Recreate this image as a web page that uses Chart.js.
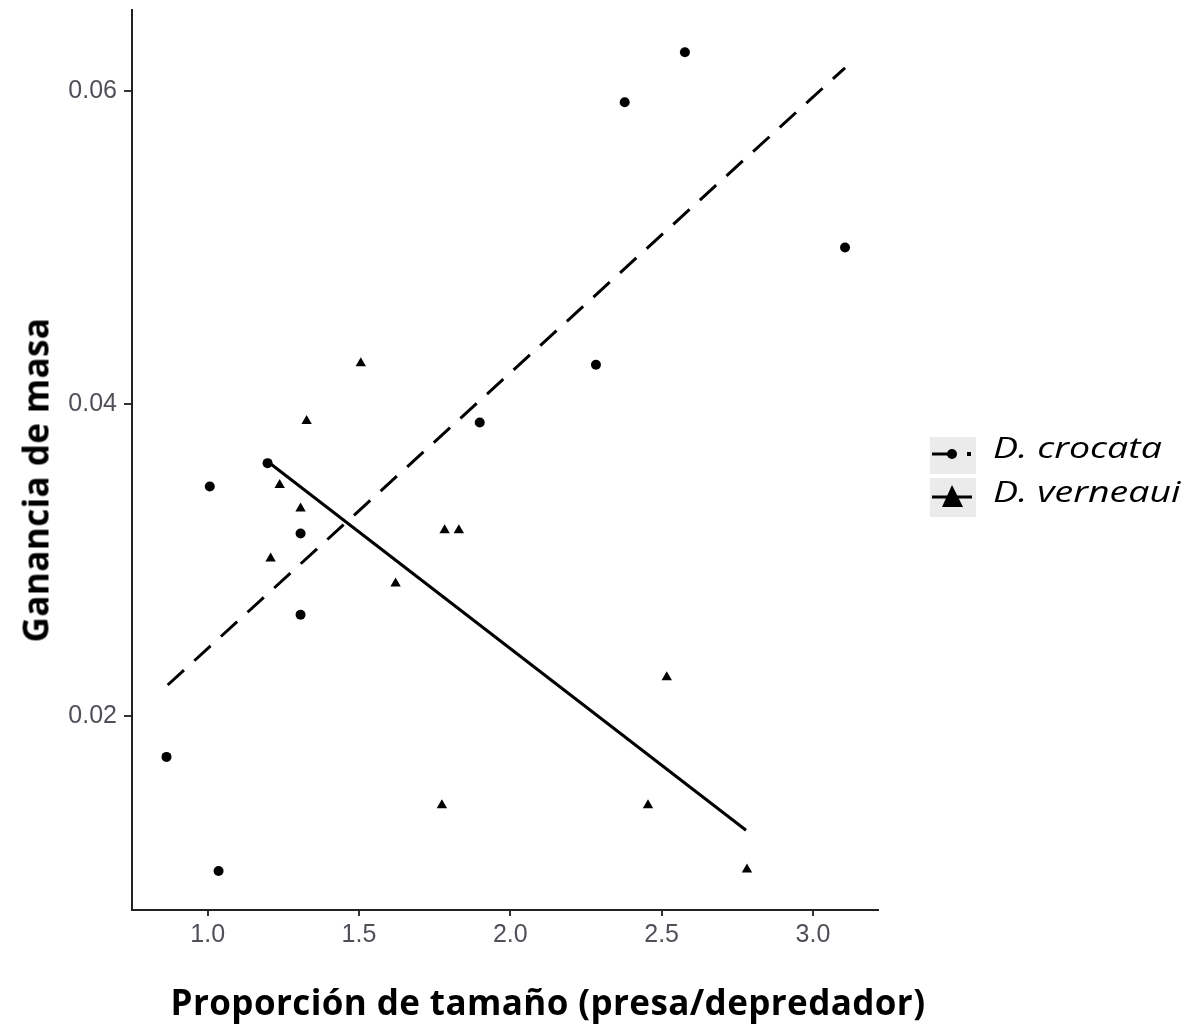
<!DOCTYPE html>
<html>
<head>
<meta charset="utf-8">
<script src="https://cdn.jsdelivr.net/npm/chart.js@4.4.1/dist/chart.umd.min.js"></script>
<style>
  html,body{margin:0;padding:0;background:#fff;}
  #wrap{position:relative;width:1200px;height:1027px;}
  #c{position:absolute;left:0;top:0;}
  .ttl{position:absolute;font-family:"Open Sans",sans-serif;font-weight:bold;color:#000;white-space:nowrap;letter-spacing:0.4px;}
  #xt{left:548px;top:1001px;transform:translate(-50%,-50%);font-size:35px;}
  #yt{left:35px;top:480px;transform:translate(-50%,-50%) rotate(-90deg);font-size:35px;}
  .key{position:absolute;}
  .lab{position:absolute;font-family:"Open Sans",sans-serif;font-style:italic;font-size:30px;color:#000;white-space:nowrap;transform-origin:left center;transform:translateY(-50%) scaleX(1.25);line-height:1;}
</style>
</head>
<body>
<div id="wrap">
  <canvas id="c" width="1200" height="1027"></canvas>
  <div class="ttl" id="xt">Proporción de tamaño (presa/depredador)</div>
  <div class="ttl" id="yt">Ganancia de masa</div>
  <canvas class="key" id="k1" width="46" height="37" style="left:930px;top:437px"></canvas>
  <canvas class="key" id="k2" width="46" height="39" style="left:930px;top:478px"></canvas>
  <div class="lab" id="l1" style="left:993px;top:447px"></div>
  <div class="lab" id="l2" style="left:993px;top:491px"></div>
</div>
<script>
// Data
const seriesNames = ["D. crocata", "D. verneaui"];
const crocataX = [3.106, 2.577, 2.378, 2.283, 1.899, 1.198, 1.007, 1.307, 1.307, 0.864, 1.036];
const crocataY = [0.0500, 0.0625, 0.0593, 0.0425, 0.0388, 0.0362, 0.0347, 0.0317, 0.0265, 0.0174, 0.0101];
const verneauiX = [1.506, 1.327, 1.238, 1.307, 1.208, 1.783, 1.830, 1.621, 2.517, 1.774, 2.455, 2.782];
const verneauiY = [0.0426, 0.0389, 0.0348, 0.0333, 0.0301, 0.0319, 0.0319, 0.0285, 0.0225, 0.0143, 0.0143, 0.0102];
const crocataFitX = [0.868, 3.106];
const crocataFitY = [0.0220, 0.0615];
const verneauiFitX = [1.198, 2.779];
const verneauiFitY = [0.0363, 0.0127];
const xTicks = [1.0, 1.5, 2.0, 2.5, 3.0];
const yTicks = [0.02, 0.04, 0.06];

document.getElementById('l1').textContent = seriesNames[0];
document.getElementById('l2').textContent = seriesNames[1];

const pts = (xs, ys) => xs.map((x, i) => ({x, y: ys[i]}));

new Chart(document.getElementById('c'), {
  type: 'scatter',
  data: {
    datasets: [
      {label: seriesNames[0] + ' fit', data: pts(crocataFitX, crocataFitY), showLine: true,
       borderColor: '#000', borderWidth: 3, borderDash: [22, 14], pointRadius: 0, fill: false},
      {label: seriesNames[1] + ' fit', data: pts(verneauiFitX, verneauiFitY), showLine: true,
       borderColor: '#000', borderWidth: 3, pointRadius: 0, fill: false},
      {label: seriesNames[0], data: pts(crocataX, crocataY), pointStyle: 'circle', pointRadius: 5,
       backgroundColor: '#000', borderColor: '#000', borderWidth: 0},
      {label: seriesNames[1], data: pts(verneauiX, verneauiY), pointStyle: 'triangle', pointRadius: 6,
       backgroundColor: '#000', borderColor: '#000', borderWidth: 0}
    ]
  },
  options: {
    responsive: false,
    animation: false,
    layout: {padding: {left: 0, top: 10, right: 322, bottom: 0}},
    plugins: {legend: {display: false}, tooltip: {enabled: false}},
    scales: {
      x: {
        type: 'linear', min: 0.75, max: 3.215,
        afterBuildTicks: s => { s.ticks = xTicks.map(v => ({value: v})); },
        afterFit: s => { s.height = 117; s.paddingLeft = 0; s.paddingRight = 0; },
        ticks: {color: '#505058', font: {family: 'Liberation Sans', size: 25}, padding: 4,
                callback: v => v.toFixed(1)},
        grid: {display: true, drawOnChartArea: false, drawTicks: true, tickLength: 6, color: '#333', lineWidth: 2},
        border: {display: true, color: '#222', width: 2}
      },
      y: {
        type: 'linear', min: 0.0076, max: 0.0652,
        afterBuildTicks: s => { s.ticks = yTicks.map(v => ({value: v})); },
        afterFit: s => { s.width = 132; s.paddingTop = 0; s.paddingBottom = 0; },
        ticks: {color: '#505058', font: {family: 'Liberation Sans', size: 25}, padding: 7,
                callback: v => v.toFixed(2)},
        grid: {display: true, drawOnChartArea: false, drawTicks: true, tickLength: 8, color: '#333', lineWidth: 2},
        border: {display: true, color: '#222', width: 2}
      }
    }
  }
});

// legend keys
(function(){
  const k1 = document.getElementById('k1').getContext('2d');
  k1.fillStyle = '#ebebeb'; k1.fillRect(0,0,46,37);
  k1.strokeStyle = '#000'; k1.lineWidth = 3;
  k1.beginPath(); k1.moveTo(2,17); k1.lineTo(21,17); k1.stroke();
  k1.fillStyle = '#000';
  k1.beginPath(); k1.arc(22,17,5,0,Math.PI*2); k1.fill();
  k1.fillRect(37,15,4,4);
  const k2 = document.getElementById('k2').getContext('2d');
  k2.fillStyle = '#ebebeb'; k2.fillRect(0,0,46,39);
  k2.strokeStyle = '#000'; k2.lineWidth = 3;
  k2.beginPath(); k2.moveTo(2,19); k2.lineTo(42,19); k2.stroke();
  k2.fillStyle = '#000';
  k2.beginPath(); k2.moveTo(22,7); k2.lineTo(33,29); k2.lineTo(12,29); k2.closePath(); k2.fill();
})();
</script>
</body>
</html>
